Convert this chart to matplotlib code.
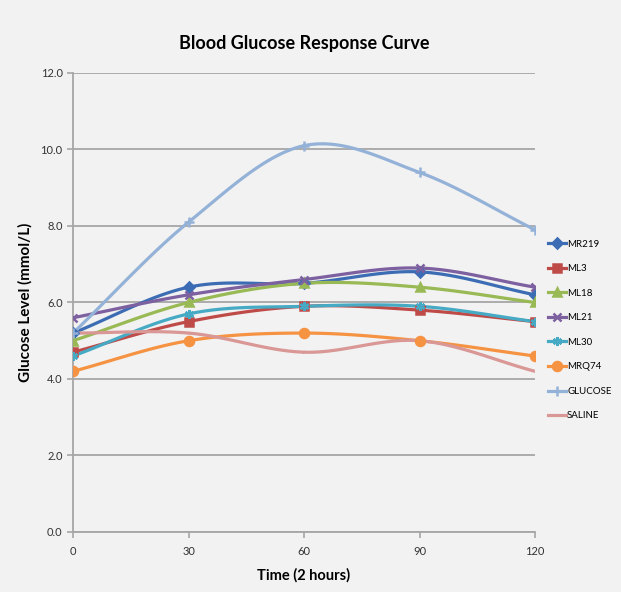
import numpy as np
import matplotlib
matplotlib.use("Agg")
import matplotlib.pyplot as plt

# time points (minutes)
times = [0, 30, 60, 90, 120]

series_names = ["MR219", "ML3", "ML18", "ML21", "ML30", "MRQ74", "GLUCOSE", "SALINE"]
mr219 = [5.2, 6.4, 6.5, 6.8, 6.2]
ml3 = [4.7, 5.5, 5.9, 5.8, 5.5]
ml18 = [5.0, 6.0, 6.5, 6.4, 6.0]
ml21 = [5.6, 6.2, 6.6, 6.9, 6.4]
ml30 = [4.6, 5.7, 5.9, 5.9, 5.5]
mrq74 = [4.2, 5.0, 5.2, 5.0, 4.6]
glucose = [5.2, 8.1, 10.1, 9.4, 7.9]
saline = [5.2, 5.2, 4.7, 5.0, 4.2]

values = [mr219, ml3, ml18, ml21, ml30, mrq74, glucose, saline]
colors = ["#3C6DB4", "#BE4B48", "#98B954", "#7D60A0", "#46AAC5", "#F59343", "#94B2D8", "#D99795"]
markers = ["D", "s", "^", "x", (6, 2, 0), "o", "+", None]
msizes = [5, 5.5, 6, 6, 6.5, 6.5, 7, 0]

def smooth(x, y, n=30):
    # catmull-rom style smoothing like Excel's smoothed lines
    x = np.asarray(x, float)
    y = np.asarray(y, float)
    px = np.concatenate([[2 * x[0] - x[1]], x, [2 * x[-1] - x[-2]]])
    py = np.concatenate([[2 * y[0] - y[1]], y, [2 * y[-1] - y[-2]]])
    xs, ys = [], []
    t = np.linspace(0, 1, n)
    for i in range(1, len(px) - 2):
        for p, out in ((px, xs), (py, ys)):
            p0, p1, p2, p3 = p[i - 1], p[i], p[i + 1], p[i + 2]
            out.extend(0.5 * ((2 * p1) + (-p0 + p2) * t
                              + (2 * p0 - 5 * p1 + 4 * p2 - p3) * t ** 2
                              + (-p0 + 3 * p1 - 3 * p2 + p3) * t ** 3))
    return xs, ys

bg = "#F2F2F2"
fig = plt.figure(figsize=(6.21, 5.92), dpi=100, facecolor=bg)
ax = fig.add_axes([0.1176, 0.1014, 0.744, 0.7753], facecolor=bg)

for name, vals, c, m, ms in zip(series_names, values, colors, markers, msizes):
    sx, sy = smooth(times, vals)
    ax.plot(sx, sy, color=c, lw=2.3, solid_capstyle="round", zorder=3)
    if m is not None:
        ax.plot(times, vals, linestyle="none", marker=m, color=c, ms=ms,
                mew=1.8, zorder=4)
    # legend proxy
    ax.plot([], [], color=c, lw=2.3, marker=m, ms=ms, mew=1.8, label=name)

ax.set_xlim(0, 120)
ax.set_ylim(0, 12)
ax.set_xticks(times)
ax.set_yticks(np.arange(0, 12.1, 2))
ax.set_yticklabels(["%.1f" % v for v in np.arange(0, 12.1, 2)])
ax.grid(axis="y", color="#A6A6A6", lw=1.3)
ax.set_axisbelow(True)
for s in ["top", "right"]:
    ax.spines[s].set_visible(False)
for s in ["left", "bottom"]:
    ax.spines[s].set_color("#A6A6A6")
    ax.spines[s].set_linewidth(1.3)
ax.tick_params(axis="both", colors="#A6A6A6", labelcolor="#333333",
               labelsize=8, length=4, width=1.2)
ax.tick_params(axis="x", pad=6)
for lab in ax.get_xticklabels() + ax.get_yticklabels():
    lab.set_family("Lato")

ax.set_title("Blood Glucose Response Curve", fontsize=13, fontweight="bold",
             family="Lato", pad=17)
ax.set_xlabel("Time (2 hours)", fontsize=10.5, fontweight="bold", family="Lato", labelpad=8)
ax.set_ylabel("Glucose Level (mmol/L)", fontsize=11, fontweight="bold", family="Lato", labelpad=6)

leg = ax.legend(loc="center left", bbox_to_anchor=(1.02, 0.44), frameon=False,
                prop={"family": "Lato", "size": 7}, handlelength=1.8,
                handletextpad=0.15, labelspacing=1.6, borderaxespad=0)

fig.savefig("out.png", dpi=100, facecolor=bg)
